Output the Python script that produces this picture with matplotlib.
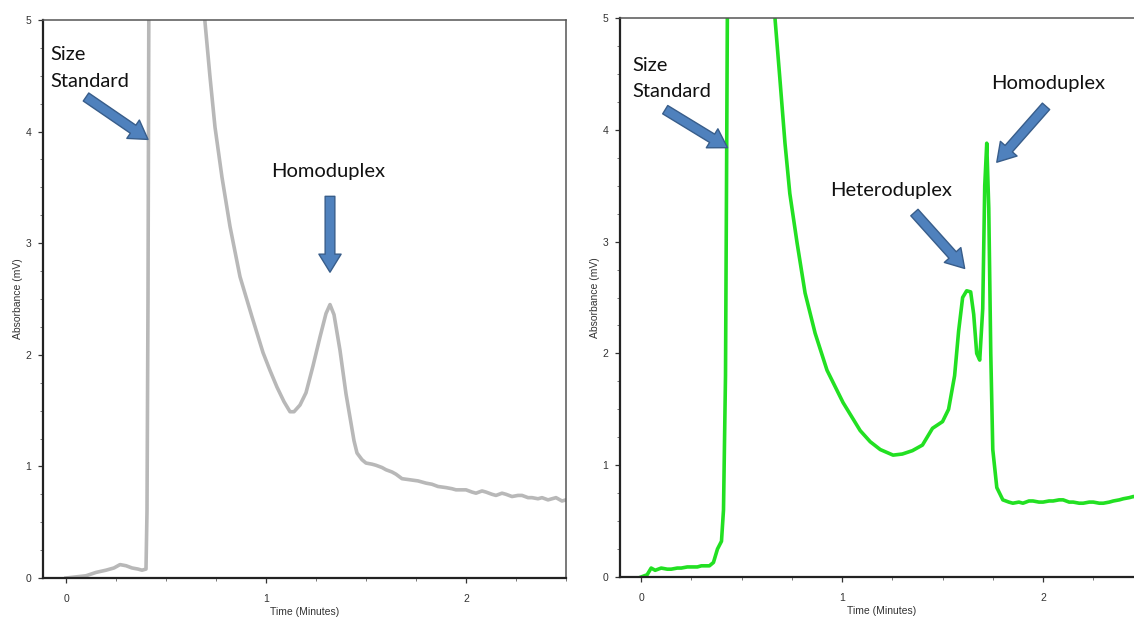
import matplotlib
matplotlib.use("Agg")
import matplotlib.pyplot as plt
from matplotlib.ticker import MultipleLocator

# ---- chromatogram traces (time in minutes, absorbance in mV) ----
homo_time = [0.00, 0.05, 0.10, 0.15, 0.20, 0.24, 0.27, 0.30, 0.33, 0.36, 0.38, 0.40,
             0.405, 0.41, 0.415, 0.50, 0.60, 0.695, 0.72, 0.745, 0.78, 0.82, 0.87,
             0.93, 0.985, 1.02, 1.055, 1.09, 1.12, 1.14, 1.17, 1.20, 1.235, 1.27,
             1.30, 1.32, 1.34, 1.37, 1.40, 1.42, 1.44, 1.455, 1.48, 1.50, 1.53,
             1.55, 1.58, 1.60, 1.63, 1.65, 1.68, 1.72, 1.76, 1.80, 1.83, 1.86, 1.90,
             1.93, 1.95, 2.00, 2.03, 2.05, 2.08, 2.10, 2.13, 2.15, 2.18, 2.20, 2.23,
             2.26, 2.28, 2.31, 2.33, 2.36, 2.38, 2.41, 2.43, 2.45, 2.48, 2.50]
homo_abs = [0.00, 0.01, 0.02, 0.05, 0.07, 0.09, 0.12, 0.11, 0.09, 0.08, 0.07, 0.08,
            0.60, 2.50, 5.60, 8.50, 7.50, 4.98, 4.49, 4.04, 3.59, 3.15, 2.70,
            2.34, 2.02, 1.86, 1.71, 1.58, 1.49, 1.49, 1.55, 1.66, 1.90, 2.16,
            2.37, 2.45, 2.36, 2.04, 1.65, 1.44, 1.23, 1.12, 1.06, 1.03, 1.02,
            1.01, 0.99, 0.97, 0.95, 0.93, 0.89, 0.88, 0.87, 0.85, 0.84, 0.82, 0.81,
            0.80, 0.79, 0.79, 0.77, 0.76, 0.78, 0.77, 0.75, 0.74, 0.76, 0.75, 0.73,
            0.74, 0.74, 0.72, 0.72, 0.71, 0.72, 0.70, 0.71, 0.72, 0.69, 0.70]

hetero_time = [0.00, 0.03, 0.05, 0.07, 0.10, 0.13, 0.15, 0.18, 0.20, 0.23, 0.25, 0.28,
               0.30, 0.34, 0.36, 0.38, 0.40, 0.41, 0.42, 0.425, 0.43, 0.50, 0.60,
               0.667, 0.69, 0.716, 0.74, 0.776, 0.816, 0.866, 0.925, 1.005, 1.09,
               1.14, 1.19, 1.254, 1.30, 1.35, 1.40, 1.45, 1.50, 1.53, 1.56, 1.58,
               1.60, 1.62, 1.64, 1.655, 1.67, 1.685, 1.70, 1.71, 1.72, 1.73, 1.74,
               1.75, 1.77, 1.80, 1.83, 1.85, 1.88, 1.90, 1.93, 1.95, 1.98, 2.00,
               2.03, 2.05, 2.08, 2.10, 2.13, 2.15, 2.18, 2.20, 2.23, 2.25, 2.28,
               2.30, 2.33, 2.35, 2.38, 2.40, 2.43, 2.45, 2.48, 2.50]
hetero_abs = [0.00, 0.02, 0.08, 0.06, 0.08, 0.07, 0.07, 0.08, 0.08, 0.09, 0.09, 0.09,
              0.10, 0.10, 0.13, 0.25, 0.32, 0.60, 1.80, 3.50, 5.30, 9.00, 8.00,
              4.98, 4.47, 3.88, 3.43, 2.99, 2.54, 2.18, 1.85, 1.56, 1.31,
              1.21, 1.14, 1.09, 1.10, 1.13, 1.18, 1.33, 1.39, 1.50, 1.80, 2.20,
              2.50, 2.56, 2.55, 2.35, 2.00, 1.94, 2.40, 3.50, 3.88, 3.30, 2.00,
              1.14, 0.80, 0.69, 0.67, 0.66, 0.67, 0.66, 0.68, 0.68, 0.67, 0.67,
              0.68, 0.68, 0.69, 0.69, 0.67, 0.67, 0.66, 0.66, 0.67, 0.67, 0.66,
              0.66, 0.67, 0.68, 0.69, 0.70, 0.71, 0.72, 0.71, 0.72]

x_ticks = [0, 1, 2]
y_ticks = [0, 1, 2, 3, 4, 5]
x_label = "Time (Minutes)"
y_label = "Absorbance (mV)"

ARROW_FC = "#4f81bd"
ARROW_EC = "#385d8a"
NOTE_FONT = ["Lato", "DejaVu Sans"]
TICK_FONT = ["Liberation Sans", "DejaVu Sans"]

fig = plt.figure(figsize=(11.34, 6.19), dpi=100)
fig.patch.set_facecolor("white")

ax_l = fig.add_axes([43 / 1134, 1 - 578 / 619, 523 / 1134, 558 / 619])
ax_r = fig.add_axes([620 / 1134, 1 - 577 / 619, 523.5 / 1134, 559 / 619])


def style_axes(ax, xmin):
    ax.set_xlim(xmin, 2.5)
    ax.set_ylim(0, 5)
    ax.set_xticks(x_ticks)
    ax.set_yticks(y_ticks)
    ax.xaxis.set_minor_locator(MultipleLocator(0.25))
    ax.yaxis.set_minor_locator(MultipleLocator(0.25))
    ax.tick_params(which="major", direction="out", length=3.5, width=0.9,
                   color="#333333", labelsize=7.5, labelcolor="#333333", pad=5)
    ax.tick_params(which="minor", direction="out", length=2, width=0.7,
                   color="#777777")
    ax.tick_params(axis="x", which="major", pad=8)
    for lab in ax.get_xticklabels() + ax.get_yticklabels():
        lab.set_family(TICK_FONT)
    for side in ("left", "bottom"):
        ax.spines[side].set_linewidth(1.6)
        ax.spines[side].set_color("#222222")
    for side in ("top", "right"):
        ax.spines[side].set_linewidth(1.1)
        ax.spines[side].set_color("#555555")
    ax.set_xlabel(x_label, fontsize=7.5, color="#333333", family=TICK_FONT,
                  labelpad=2)
    ax.set_ylabel(y_label, fontsize=7.5, color="#333333", family=TICK_FONT,
                  labelpad=2)


def block_arrow(ax, tail, tip):
    ax.annotate("", xy=tip, xytext=tail,
                arrowprops=dict(arrowstyle="simple,head_length=13,head_width=16,tail_width=7",
                                mutation_scale=1, fc=ARROW_FC, ec=ARROW_EC, lw=1,
                                shrinkA=0, shrinkB=0))


def note(ax, x, y, s, ha="center"):
    ax.text(x, y, s, ha=ha, va="center", fontsize=14.5, color="#111111",
            family=NOTE_FONT, linespacing=1.65)


# left: homoduplex only
style_axes(ax_l, -0.115)
ax_l.plot(homo_time, homo_abs, color="#b8b8b8", lw=2.6, solid_joinstyle="round")
note(ax_l, -0.08, 4.57, "Size\nStandard", ha="left")
block_arrow(ax_l, (0.10, 4.31), (0.41, 3.93))
note(ax_l, 1.31, 3.64, "Homoduplex")
block_arrow(ax_l, (1.32, 3.42), (1.32, 2.74))

# right: heteroduplex + homoduplex
style_axes(ax_r, -0.105)
ax_r.plot(hetero_time, hetero_abs, color="#22e022", lw=2.6, solid_joinstyle="round")
note(ax_r, -0.045, 4.46, "Size\nStandard", ha="left")
block_arrow(ax_r, (0.12, 4.18), (0.43, 3.84))
note(ax_r, 1.245, 3.46, "Heteroduplex")
block_arrow(ax_r, (1.36, 3.26), (1.61, 2.76))
note(ax_r, 2.025, 4.41, "Homoduplex")
block_arrow(ax_r, (2.015, 4.21), (1.77, 3.71))

fig.savefig("out.png", dpi=100, facecolor="white")
